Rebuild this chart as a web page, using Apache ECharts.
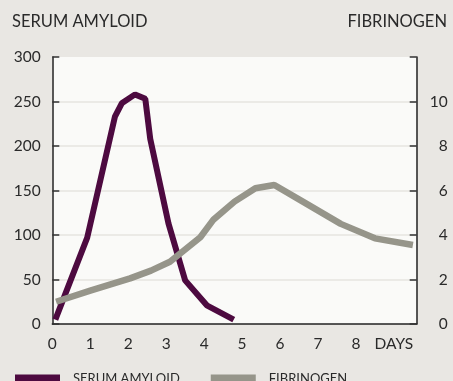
<!DOCTYPE html>
<html>
<head>
<meta charset="utf-8">
<script src="https://cdn.jsdelivr.net/npm/echarts@6/dist/echarts.min.js"></script>
<style>
  html, body { margin: 0; padding: 0; background: #e9e7e3; }
  #chart { width: 453px; height: 381px; }
</style>
</head>
<body>
<div id="chart"></div>
<script>
// Serum amyloid (left axis), [day, value]
const serumDays   = [0.08, 0.92, 1.65, 1.83, 2.18, 2.45, 2.58, 3.06, 3.5, 4.07, 4.78];
const serumValues = [5, 97, 233, 248, 258, 253, 208, 113, 49, 21, 5];
// Fibrinogen (right axis), [day, value]
const fibDays   = [0.1, 1.0, 2.05, 2.6, 3.1, 3.9, 4.25, 4.8, 5.35, 5.85, 6.6, 7.6, 8.5, 9.5];
const fibValues = [1.0, 1.5, 2.05, 2.4, 2.8, 3.9, 4.7, 5.5, 6.1, 6.25, 5.5, 4.5, 3.85, 3.55];
// Axis labels
const leftTitle = 'SERUM AMYLOID';
const rightTitle = 'FIBRINOGEN';
const xUnitLabel = 'DAYS';
const xTickLabels = ['0','1','2','3','4','5','6','7','8'];

const FONT = 'Lato';
const TXT = '#2a2a2a';

const chart = echarts.init(document.getElementById('chart'), null, { renderer: 'canvas' });
chart.setOption({
  backgroundColor: '#e9e7e3',
  animation: false,
  textStyle: { fontFamily: FONT },
  title: [
    { text: leftTitle, left: 12, top: 13, padding: 0,
      textStyle: { fontFamily: FONT, fontSize: 16.5, fontWeight: 'normal', color: TXT, lineHeight: 17 } },
    { text: rightTitle, right: 6, top: 13, padding: 0,
      textStyle: { fontFamily: FONT, fontSize: 16.5, fontWeight: 'normal', color: TXT, lineHeight: 17 } }
  ],
  legend: {
    left: 15, top: 372, padding: 0,
    icon: 'rect', itemWidth: 45, itemHeight: 9, itemGap: 31,
    data: ['SERUM AMYLOID', 'FIBRINOGEN'],
    textStyle: { fontFamily: FONT, fontSize: 13, color: TXT, lineHeight: 14, padding: [0, 0, 0, 8] }
  },
  grid: {
    left: 52.3, right: 36.3, top: 57, bottom: 57,
    show: true, backgroundColor: '#fafaf8', borderWidth: 0
  },
  xAxis: {
    type: 'value', min: 0, max: 9.6, interval: 1,
    axisLine: { show: true, lineStyle: { color: '#222', width: 1.5 } },
    axisTick: { show: false },
    splitLine: { show: false },
    axisLabel: {
      margin: 12, fontFamily: FONT, fontSize: 15.5, color: TXT,
      showMaxLabel: false,
      formatter: function (v) {
        if (Math.abs(v - 9) < 1e-6) return xUnitLabel;
        if (Math.abs(v - Math.round(v)) > 1e-6) return '';
        return xTickLabels[Math.round(v)] || '';
      }
    }
  },
  yAxis: [
    {
      type: 'value', min: 0, max: 300, interval: 50, position: 'left',
      axisLine: { show: true, lineStyle: { color: '#222', width: 1.5 } },
      axisTick: { show: true, inside: true, length: 7, lineStyle: { color: '#333', width: 1.5 } },
      splitLine: { show: true, showMinLine: false, showMaxLine: false, lineStyle: { color: '#ebeae6', width: 2 } },
      axisLabel: { margin: 11.5, fontFamily: FONT, fontSize: 15.5, color: TXT }
    },
    {
      type: 'value', min: 0, max: 12, interval: 2, position: 'right',
      axisLine: { show: true, lineStyle: { color: '#222', width: 1.5 } },
      axisTick: { show: true, inside: true, length: 7, lineStyle: { color: '#333', width: 1.5 } },
      splitLine: { show: false },
      axisLabel: {
        margin: 31, align: 'right', fontFamily: FONT, fontSize: 15.5, color: TXT,
        formatter: function (v) { return v >= 12 ? '' : String(v); }
      }
    }
  ],
  series: [
    {
      name: 'SERUM AMYLOID', type: 'line', yAxisIndex: 0, symbol: 'none',
      data: serumDays.map((d, i) => [d, serumValues[i]]),
      lineStyle: { color: '#4d0a40', width: 6 },
      itemStyle: { color: '#4d0a40' },
      z: 2
    },
    {
      name: 'FIBRINOGEN', type: 'line', yAxisIndex: 1, symbol: 'none',
      data: fibDays.map((d, i) => [d, fibValues[i]]),
      lineStyle: { color: '#96958a', width: 6.5 },
      itemStyle: { color: '#96958a' },
      z: 3
    }
  ]
});
</script>
</body>
</html>
